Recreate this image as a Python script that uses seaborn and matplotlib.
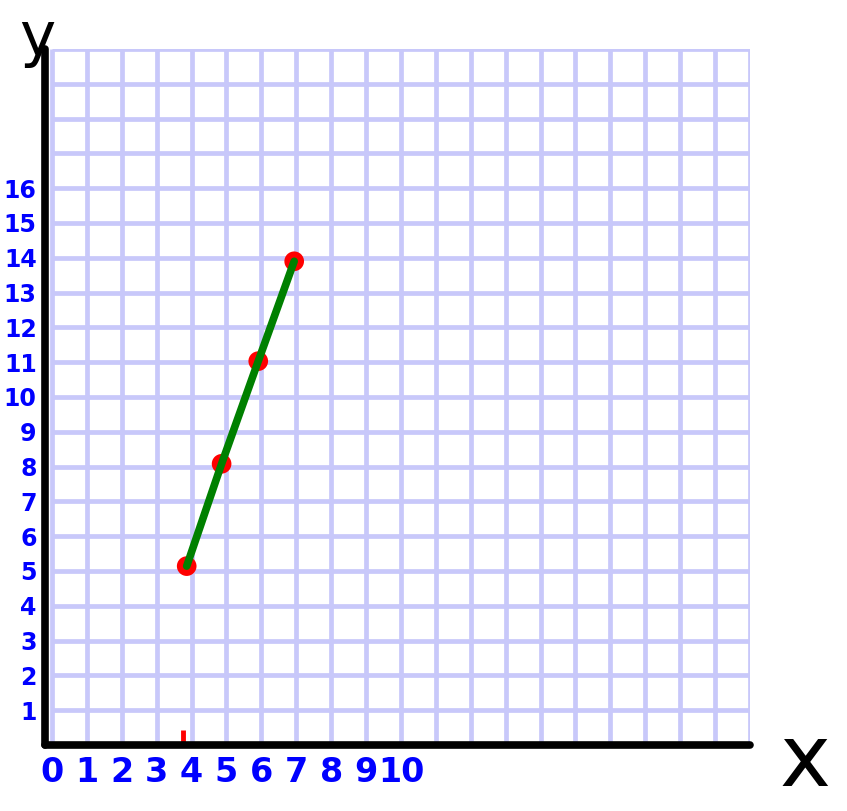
import matplotlib
matplotlib.use("Agg")
import matplotlib.pyplot as plt
import seaborn as sns
import pandas as pd

# data
x_vals = [3.86, 4.86, 5.91, 6.94]
y_vals = [5.14, 8.08, 11.03, 13.9]
x_tick_labels = ["0", "1", "2", "3", "4", "5", "6", "7", "8", "9", "10"]
y_tick_labels = [str(i) for i in range(1, 17)]
x_mark = [3.75]

df = pd.DataFrame({"x": x_vals, "y": y_vals})

sns.set_theme(style="white")
plt.rcParams['font.family'] = ['DejaVu Sans']

fig = plt.figure(figsize=(8.47, 8.11), dpi=100)
ax = fig.add_axes([45/847, 66/811, 705/847, 696/811])

ax.set_xlim(-0.2, 20)
ax.set_ylim(0, 20)

# grid paper
grid_pos = list(range(0, 21))
ax.vlines(grid_pos, 0, 20, color="#c8c8fa", linewidth=3.4, zorder=0)
ax.hlines(grid_pos, 0, 20, color="#c8c8fa", linewidth=3.4, zorder=0)

# marks
sns.scatterplot(data=df, x="x", y="y", ax=ax, color="#ff0000", s=200,
                edgecolor="none", zorder=3, legend=False)
sns.lineplot(data=df, x="x", y="y", ax=ax, color="#008000", linewidth=5.5,
             zorder=4, sort=False, solid_capstyle="round")
ax.plot(x_mark, [0.25], marker="|", markersize=8, markeredgewidth=3.5,
        color="#ff0000", linestyle="none", zorder=5)

# ticks
ax.set_xticks(range(0, 11))
ax.set_xticklabels(x_tick_labels, color="#0000ff", fontsize=24,
                   fontweight="bold")
ax.set_yticks(range(1, 17))
ax.set_yticklabels(y_tick_labels, color="#0000ff", fontsize=17,
                   fontweight="bold")
ax.tick_params(axis="both", which="both", length=0)
ax.tick_params(axis="x", pad=8)
ax.tick_params(axis="y", pad=6)
ax.set_xlabel("")
ax.set_ylabel("")

# spines
for side in ["top", "right"]:
    ax.spines[side].set_visible(False)
for side in ["left", "bottom"]:
    ax.spines[side].set_color("black")
    ax.spines[side].set_linewidth(5.5)
    ax.spines[side].set_capstyle("round")
    ax.spines[side].set_zorder(6)

# axis names
fig.text(37/847, 1 - 38/811, "y", fontsize=44, color="black", ha="center", va="center")
fig.text(805/847, 1 - 762/811, "x", fontsize=62, color="black", ha="center", va="center")

fig.savefig("out.png", dpi=100)
